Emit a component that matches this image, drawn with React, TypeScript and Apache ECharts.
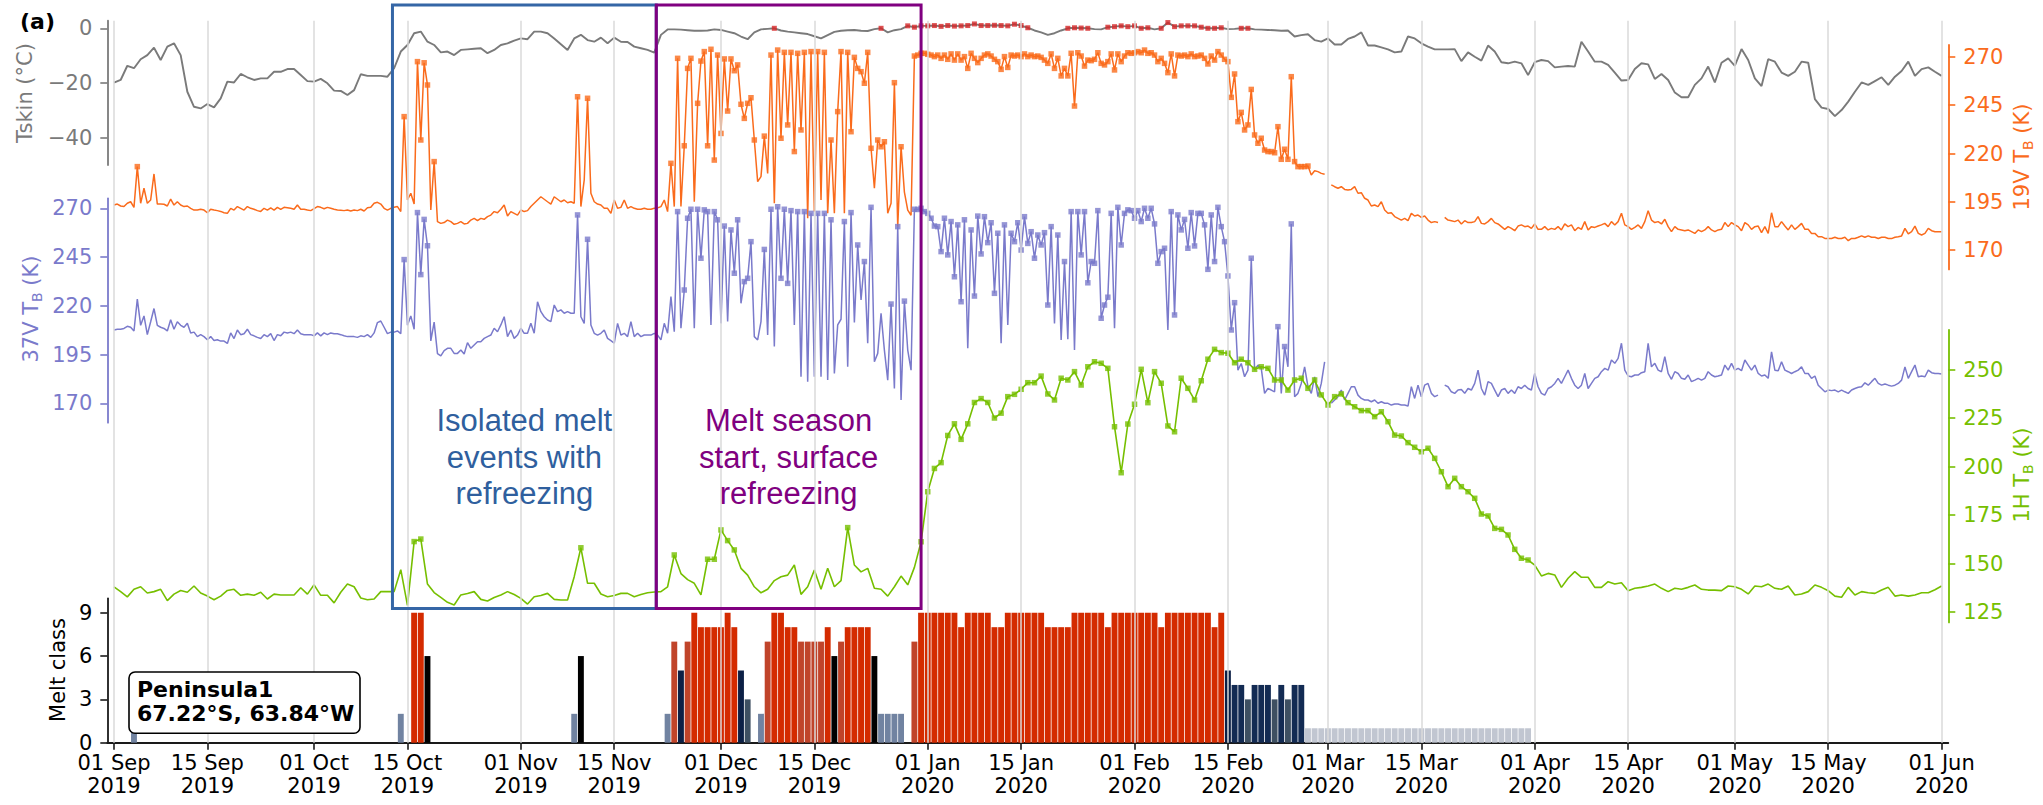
import React, { useEffect, useRef } from "react";
import * as echarts from "echarts";

// ---------------- data ----------------
// day 0 = 01 Sep 2019
const tickDays = [0, 14, 30, 44, 61, 75, 91, 105, 122, 136, 153, 167, 182, 196, 213, 227, 243, 257, 274];
const tickLabels = [
  "01 Sep\n2019", "15 Sep\n2019", "01 Oct\n2019", "15 Oct\n2019", "01 Nov\n2019", "15 Nov\n2019",
  "01 Dec\n2019", "15 Dec\n2019", "01 Jan\n2020", "15 Jan\n2020", "01 Feb\n2020", "15 Feb\n2020",
  "01 Mar\n2020", "15 Mar\n2020", "01 Apr\n2020", "15 Apr\n2020", "01 May\n2020", "15 May\n2020", "01 Jun\n2020",
];
const tskinTicks = [0, -20, -40];
const tbTicks = [170, 195, 220, 245, 270];
const tb1hTicks = [125, 150, 175, 200, 225, 250];
const meltTicks = [0, 3, 6, 9];

// skin temperature, daily (deg C)
const tskin = [
  -19.9, -18.9, -13.7, -14.6, -11.3, -9.8, -7.1, -11.6, -6.7, -5.5,
  -9.8, -23.2, -28.7, -29.3, -27.7, -28.9, -25.6, -19.5, -19.8, -16.7,
  -17.9, -18.9, -18.3, -18.3, -15.9, -15.9, -14.9, -14.9, -17.1, -19.3,
  -19.5, -18.5, -20.1, -22.8, -22.9, -24.4, -22.6, -16.8, -17.4, -17.4,
  -17.4, -17.7, -14.6, -8.5, -6.1, -1.8, -1.2, -4.9, -6.1, -8.8,
  -8.5, -9.8, -7.9, -7.7, -7.5, -7.3, -9.1, -7.9, -6.1, -5.5,
  -4.5, -3.7, -4.0, -1.2, -1.2, -1.8, -3.7, -5.8, -7.9, -3.7,
  -2.4, -4.3, -4.9, -3.4, -5.5, -3.4, -4.9, -5.0, -6.7, -7.3,
  -7.9, -8.9, -2.4, -0.4, -0.4, -0.5, -0.7, -0.9, -0.9, -0.8,
  -0.4, -0.6, -1.2, -1.8, -3.0, -4.0, -1.5, -0.4, -0.2, 0.0,
  -0.8, -1.2, -1.5, -1.8, -2.1, -2.9, -3.7, -2.5, -1.3, -0.9,
  -0.7, -0.6, -0.9, -1.0, -0.3, 0.0, -1.5, -0.7, -0.3, 0.9,
  0.4, 0.9, 0.9, 1.0, 0.7, 1.0, 0.8, 0.9, 1.0, 1.6,
  1.0, 1.0, 1.1, 1.0, 0.9, 1.5, 1.0, 0.2, -0.8, -1.5,
  -2.4, -1.8, -0.8, 0.0, 0.2, 0.1, 0.0, -0.3, -0.4, 0.4,
  0.6, 0.9, 0.6, 0.9, 0.0, 0.2, -0.4, 0.0, 2.1, 0.6,
  0.9, 0.9, 0.9, 0.4, 0.0, 0.0, 0.2, -0.3, -0.2, 0.0,
  0.0, -0.4, -0.5, -0.6, -0.7, -0.9, -0.8, -3.0, -2.5, -2.2,
  -4.3, -4.9, -3.7, -5.9, -5.9, -3.9, -3.0, -1.5, -6.3, -6.3,
  -7.0, -7.7, -8.8, -8.5, -3.0, -3.7, -5.5, -6.7, -7.7, -7.7,
  -7.7, -7.6, -12.0, -8.8, -10.4, -11.8, -6.3, -8.5, -12.4, -12.8,
  -12.2, -12.8, -17.1, -12.4, -11.6, -12.0, -14.3, -14.0, -13.8, -14.0,
  -4.9, -8.5, -12.2, -12.2, -13.4, -16.2, -19.1, -18.9, -14.9, -12.8,
  -13.2, -18.5, -16.7, -18.9, -23.5, -25.2, -25.2, -20.7, -18.3, -14.0,
  -19.8, -12.6, -11.0, -13.7, -7.6, -11.6, -18.3, -21.1, -11.3, -12.2,
  -16.2, -17.4, -15.9, -12.2, -12.6, -25.9, -29.0, -29.5, -32.1, -29.9,
  -26.8, -23.2, -19.8, -20.7, -19.3, -17.9, -20.7, -17.7, -15.6, -12.2,
  -17.4, -14.9, -14.3, -15.9, -17.4,
];

// 19 GHz V-pol brightness temperature, twice daily (K)
const tb19 = [
  193.3, 193.8, 192.8, 192.5, 194.2, 195.0, 192.1, 213.2, 194.2, 202.0,
  194.2, 195.9, 209.4, 193.8, 193.8, 193.7, 192.8, 196.4, 193.3, 195.0,
  193.3, 192.5, 192.8, 191.6, 190.7, 190.7, 191.1, 190.7, 189.3, 191.1,
  190.7, 190.4, 190.0, 189.3, 189.0, 191.6, 190.7, 192.5, 191.6, 190.7,
  192.5, 191.6, 191.1, 190.4, 190.0, 191.6, 190.7, 191.8, 190.7, 192.1,
  191.1, 192.1, 191.9, 191.6, 191.1, 193.3, 191.1, 191.1, 190.7, 190.4,
  191.4, 192.5, 192.1, 191.4, 192.1, 191.6, 191.1, 190.7, 190.6, 190.4,
  190.7, 190.2, 190.7, 190.4, 191.1, 190.2, 191.9, 192.1, 194.2, 194.7,
  193.8, 191.6, 190.7, 191.6, 192.1, 192.5, 189.9, 239.1, 195.9, 199.4,
  193.8, 267.6, 227.0, 267.0, 255.5, 190.7, 215.8, 184.7, 183.8, 184.2,
  185.5, 184.7, 183.3, 183.8, 184.7, 183.5, 183.8, 185.5, 186.4, 185.2,
  186.4, 185.9, 187.3, 188.1, 189.9, 189.3, 191.1, 193.3, 187.6, 189.9,
  189.0, 188.1, 190.7, 189.9, 190.4, 192.5, 194.2, 195.9, 197.6, 196.3,
  195.0, 193.8, 197.6, 196.3, 195.0, 195.9, 194.5, 195.0, 194.2, 249.4,
  192.5, 206.3, 248.6, 199.4, 195.0, 193.8, 193.3, 191.6, 191.6, 189.0,
  195.9, 191.6, 192.1, 195.9, 191.6, 192.5, 191.6, 191.1, 191.1, 191.6,
  191.1, 191.1, 191.6, 191.8, 192.5, 195.9, 189.9, 214.9, 192.5, 269.3,
  192.5, 224.0, 264.1, 269.3, 195.0, 246.0, 267.9, 272.8, 224.0, 274.0,
  216.6, 271.0, 230.4, 269.0, 242.0, 269.0, 262.9, 265.9, 245.5, 238.2,
  246.0, 248.9, 227.0, 205.4, 208.0, 229.0, 209.7, 271.0, 194.2, 273.6,
  227.9, 272.4, 234.8, 272.4, 221.0, 271.9, 232.2, 272.4, 186.4, 272.8,
  189.9, 272.8, 195.9, 272.4, 189.0, 227.0, 189.0, 241.7, 272.8, 189.0,
  272.4, 231.3, 269.8, 264.1, 262.4, 256.4, 272.4, 222.7, 202.0, 227.0,
  223.5, 226.1, 189.0, 194.2, 256.7, 182.1, 223.5, 200.0, 190.7, 188.0,
  270.5, 271.0, 271.9, 271.9, 271.4, 271.0, 270.2, 271.0, 269.3, 271.0,
  268.8, 271.6, 268.4, 271.6, 268.4, 270.2, 264.1, 271.9, 269.3, 267.1,
  269.3, 271.0, 271.6, 270.5, 268.8, 267.6, 263.6, 270.2, 264.6, 271.0,
  270.5, 271.0, 270.2, 271.6, 270.2, 271.0, 270.2, 270.5, 269.8, 268.4,
  266.7, 271.6, 264.1, 269.3, 260.2, 264.1, 260.2, 271.9, 244.6, 272.2,
  270.5, 265.3, 268.4, 268.1, 268.8, 272.2, 266.7, 265.9, 267.6, 271.6,
  263.3, 271.6, 267.6, 270.5, 272.2, 271.9, 272.2, 272.8, 272.2, 273.6,
  271.9, 272.2, 271.0, 267.6, 269.3, 266.7, 261.9, 271.6, 260.2, 271.0,
  270.5, 271.0, 270.2, 271.6, 270.2, 270.5, 271.0, 269.3, 266.4, 270.5,
  268.4, 272.8, 271.0, 268.8, 267.6, 249.1, 261.2, 236.5, 241.3, 232.2,
  234.8, 253.2, 229.6, 225.3, 227.9, 221.8, 221.0, 221.0, 220.4, 233.9,
  217.0, 222.2, 217.0, 259.8, 215.8, 213.2, 213.2, 213.2, 213.5, 208.9,
  211.1, 210.6, 209.7, 209.2, null, 203.7, 202.8, 202.0, 202.8, 201.4,
  201.1, 201.4, 202.8, 199.4, 199.7, 196.8, 195.9, 192.8, 193.3, 192.5,
  195.0, 190.7, 189.0, 189.3, 187.3, 186.4, 185.5, 186.4, 185.2, 189.0,
  187.6, 188.1, 186.9, 187.6, 185.5, 184.2, 184.7, 184.2, null, 186.9,
  185.5, 185.2, 184.7, 185.5, 183.5, 185.2, 184.2, 184.2, 184.7, 187.3,
  183.8, 183.5, 184.7, 186.4, 184.2, 183.5, 182.1, 180.7, 182.1, 181.2,
  180.0, 182.4, 183.0, 182.1, 182.4, 181.2, 183.5, 180.7, 180.7, 182.1,
  180.4, 181.2, 180.7, 182.1, 180.4, 183.5, 182.1, 183.0, 180.0, 181.7,
  180.7, 184.7, 180.4, 182.1, 181.7, 182.4, 183.0, 183.8, 182.1, 184.7,
  183.0, 184.7, 189.0, 183.0, 182.1, 180.7, 181.7, 183.0, 181.2, 184.7,
  190.4, 185.5, 184.2, 184.7, 183.5, 185.9, 182.1, 179.5, 182.1, 180.7,
  180.4, 180.0, 180.4, 179.5, 178.6, 180.4, 179.5, 180.4, 182.1, 180.4,
  179.5, 180.4, 180.7, 184.2, 182.1, 184.2, 183.0, 182.1, 180.0, 184.2,
  183.0, 180.7, 182.1, 182.4, 179.0, 182.1, 178.6, 189.3, 182.1, 182.1,
  184.7, 182.4, 180.4, 183.0, 180.7, 182.1, 183.8, 180.7, 180.7, 178.6,
  178.6, 176.9, 176.9, 176.0, 176.0, 176.0, 176.6, 176.0, 176.0, 176.6,
  174.8, 176.0, 176.0, 176.6, 177.3, 176.6, 177.3, 176.6, 176.6, 176.0,
  176.6, 176.6, 176.0, 175.9, 176.6, 176.9, 177.3, 181.2, 178.3, 179.5,
  182.4, 178.6, 177.8, 178.6, 181.2, 180.0, 179.5, 179.5, 179.5,
];

// 37 GHz V-pol brightness temperature, twice daily (K)
const tb37 = [
  207.6, 208.0, 208.0, 208.4, 209.5, 209.0, 207.1, 223.4, 210.0, 214.8,
  205.2, 211.8, 218.6, 210.0, 209.0, 208.4, 207.1, 212.8, 208.0, 211.8,
  210.0, 209.0, 211.0, 206.1, 206.5, 204.2, 205.2, 204.2, 202.6, 204.2,
  202.2, 202.6, 201.9, 201.9, 200.7, 206.1, 203.2, 207.6, 205.2, 205.7,
  208.0, 205.2, 204.6, 203.8, 203.2, 205.2, 204.2, 205.7, 202.2, 205.2,
  204.6, 206.5, 206.1, 206.5, 205.7, 207.6, 205.7, 205.2, 205.2, 205.2,
  204.6, 206.1, 204.6, 206.1, 205.2, 206.1, 205.7, 205.7, 205.2, 204.6,
  204.2, 204.2, 204.2, 203.8, 204.6, 204.2, 205.2, 203.8, 206.1, 211.4,
  212.2, 209.0, 205.7, 206.5, 206.5, 207.1, 205.7, 243.7, 210.0, 214.8,
  208.0, 267.8, 236.0, 264.3, 250.8, 202.0, 211.6, 195.5, 194.3, 197.0,
  198.2, 198.2, 195.6, 195.6, 197.3, 195.3, 201.1, 198.2, 199.9, 201.6,
  201.6, 203.3, 204.2, 205.0, 208.5, 206.7, 210.2, 214.4, 204.2, 207.6,
  203.3, 205.0, 208.5, 205.9, 205.9, 211.0, 205.9, 222.1, 217.0, 214.4,
  212.7, 211.9, 220.4, 217.0, 217.9, 216.2, 217.0, 216.2, 216.2, 266.6,
  214.4, 211.0, 254.1, 210.2, 205.9, 205.0, 205.9, 207.6, 203.3, 202.1,
  200.8, 211.0, 205.0, 205.9, 204.2, 211.9, 204.2, 205.9, 204.2, 205.0,
  205.0, 205.0, 205.9, 205.0, 202.5, 211.0, 205.9, 224.7, 206.7, 268.3,
  208.5, 228.1, 264.9, 269.5, 208.5, 269.5, 244.4, 269.2, 268.3, 210.2,
  268.3, 264.1, 211.0, 260.9, 211.9, 258.9, 236.7, 264.1, 221.3, 232.4,
  234.1, 252.9, 204.2, 202.5, 211.9, 248.9, 205.0, 269.5, 199.1, 270.8,
  234.1, 269.5, 231.5, 268.8, 210.2, 268.3, 183.6, 268.3, 181.1, 267.4,
  183.6, 267.4, 183.6, 267.4, 181.9, 264.1, 185.3, 210.2, 213.1, 263.2,
  188.7, 267.8, 211.4, 251.2, 223.0, 242.7, 200.8, 270.5, 191.3, 195.6,
  216.2, 197.3, 181.9, 220.9, 177.6, 260.6, 171.7, 222.4, 197.3, 187.0,
  269.5, 269.4, 270.0, 268.3, 267.4, 264.9, 260.9, 260.6, 247.8, 264.9,
  246.1, 263.2, 234.9, 261.5, 222.1, 264.1, 198.2, 258.9, 225.0, 266.0,
  246.6, 265.7, 252.4, 262.6, 226.4, 257.2, 200.8, 261.5, 210.2, 257.2,
  252.9, 262.6, 248.6, 265.7, 252.0, 258.0, 244.4, 256.3, 251.2, 257.5,
  220.4, 260.6, 211.0, 256.3, 202.5, 242.7, 202.8, 268.3, 197.3, 268.3,
  246.1, 268.3, 231.8, 242.7, 241.8, 268.8, 213.6, 220.4, 224.4, 267.4,
  208.5, 270.5, 251.2, 267.4, 269.2, 268.8, 264.9, 268.8, 263.2, 270.0,
  264.9, 270.0, 262.0, 241.8, 247.8, 249.5, 207.6, 268.3, 215.3, 266.6,
  258.9, 264.3, 249.5, 267.8, 250.7, 267.4, 267.4, 261.5, 238.7, 266.6,
  242.7, 270.5, 260.6, 252.9, 235.3, 207.6, 221.6, 187.0, 190.4, 183.6,
  187.0, 244.4, 187.0, 189.6, 187.9, 175.1, 177.6, 176.8, 175.9, 209.3,
  175.1, 199.1, 188.7, 262.0, 173.4, 175.1, 180.2, 188.7, 178.5, 175.1,
  183.6, 173.4, 180.2, 191.3, null, 170.0, 171.7, 173.4, 176.8, 171.7,
  175.1, 178.5, 178.5, 174.2, 172.5, 171.7, 171.7, 170.8, 171.7, 170.0,
  170.8, 170.0, 170.0, 169.1, 169.6, 169.6, 169.1, 169.1, 168.6, 178.5,
  172.5, 179.3, 173.4, 179.3, 180.2, 175.1, 173.4, 174.2, null, 179.3,
  178.5, 175.9, 175.1, 176.8, 177.1, 175.1, 177.6, 176.8, 180.2, 187.0,
  177.6, 174.2, 181.1, 180.2, 176.8, 173.4, 176.8, 177.6, 175.1, 176.8,
  175.1, 178.5, 177.6, 179.3, 177.6, 176.8, 185.3, 178.5, 175.1, 174.2,
  177.6, 178.5, 180.2, 182.8, 180.2, 183.6, 187.0, 182.8, 179.3, 177.6,
  179.3, 185.3, 177.6, 180.2, 182.8, 183.6, 186.2, 187.9, 187.0, 192.2,
  190.5, 193.0, 200.8, 187.0, 184.0, 183.6, 184.5, 184.5, 185.7, 186.2,
  200.8, 188.7, 190.5, 187.0, 186.2, 193.9, 185.3, 182.3, 186.2, 185.3,
  182.8, 182.3, 184.5, 181.1, 181.9, 182.8, 181.9, 182.8, 186.2, 184.5,
  183.6, 184.0, 184.5, 189.6, 187.0, 190.5, 187.0, 187.9, 186.7, 192.2,
  189.6, 187.0, 189.6, 185.3, 184.0, 184.5, 182.8, 196.4, 187.0, 186.7,
  191.3, 187.0, 186.2, 185.3, 186.2, 187.0, 188.7, 185.3, 185.3, 182.8,
  184.0, 179.3, 177.6, 175.9, 176.8, 176.5, 176.8, 175.9, 176.8, 175.9,
  175.1, 176.8, 177.6, 178.2, 178.5, 180.5, 179.3, 181.1, 182.8, 180.2,
  179.3, 179.9, 179.3, 178.8, 179.3, 180.2, 181.9, 188.7, 182.8, 186.2,
  189.6, 183.6, 184.0, 183.6, 187.0, 185.7, 185.3, 185.3, 185.0,
];

// 1.4 GHz H-pol brightness temperature, daily (K)
const tb1h = [
  138.0, 135.5, 132.8, 136.7, 138.0, 134.8, 135.5, 136.7, 130.9, 134.2,
  136.1, 135.2, 138.4, 134.8, 133.2, 131.3, 133.2, 136.1, 136.7, 133.6,
  134.2, 133.6, 135.2, 131.7, 134.2, 133.8, 133.8, 133.8, 137.5, 134.2,
  139.0, 133.6, 133.6, 129.7, 135.2, 139.4, 138.0, 132.2, 131.3, 131.7,
  135.5, 135.5, 135.5, 146.8, 128.4, 161.3, 162.6, 139.4, 135.0, 132.5,
  130.0, 128.6, 133.8, 134.5, 135.5, 131.5, 130.7, 132.5, 133.8, 135.5,
  134.0, 132.0, 129.1, 132.9, 133.5, 134.6, 131.5, 131.2, 131.2, 143.2,
  158.1, 139.8, 139.8, 134.3, 132.9, 133.5, 134.6, 134.6, 132.9, 134.0,
  134.9, 135.3, 135.5, 138.0, 154.4, 144.8, 141.7, 139.8, 133.8, 152.2,
  152.2, 167.3, 161.8, 157.0, 147.5, 144.0, 138.0, 134.9, 136.7, 141.2,
  143.2, 144.0, 149.2, 134.1, 138.0, 146.6, 136.7, 147.5, 138.0, 141.2,
  168.5, 149.2, 145.7, 147.5, 137.2, 136.7, 133.2, 138.0, 143.5, 139.0,
  148.0, 161.2, 187.0, 199.0, 202.0, 216.0, 222.0, 214.0, 222.0, 233.0,
  235.0, 233.0, 225.0, 227.5, 236.0, 237.2, 239.8, 243.2, 243.2, 246.6,
  237.4, 234.3, 245.5, 244.6, 248.9, 242.0, 251.4, 254.0, 253.2, 250.6,
  220.5, 196.8, 221.9, 232.1, 250.1, 232.9, 248.9, 242.9, 220.9, 217.9,
  245.5, 240.3, 234.3, 244.2, 255.3, 260.4, 258.7, 258.4, 253.5, 255.3,
  253.5, 250.1, 251.4, 250.6, 244.6, 244.6, 239.4, 244.6, 245.5, 240.3,
  244.6, 236.9, 231.7, 236.0, 237.4, 232.9, 230.8, 228.8, 228.8, 225.7,
  228.2, 223.1, 216.2, 215.7, 212.3, 209.9, 207.6, 209.4, 204.2, 197.3,
  189.6, 193.9, 189.6, 187.0, 183.6, 175.5, 174.5, 168.1, 167.6, 164.7,
  157.3, 152.7, 151.8, 149.2, 143.6, 144.9, 144.1, 137.7, 142.4, 145.8,
  142.9, 142.9, 137.7, 137.7, 140.6, 139.4, 140.1, 136.0, 137.2, 137.7,
  138.4, 139.4, 137.2, 135.5, 137.2, 136.7, 137.7, 138.9, 136.7, 136.3,
  136.3, 136.0, 138.4, 138.0, 136.7, 134.3, 138.4, 138.0, 139.4, 137.2,
  136.7, 138.4, 133.8, 134.3, 135.5, 138.9, 137.7, 136.0, 133.2, 132.6,
  137.7, 133.8, 135.5, 134.9, 134.6, 136.3, 137.7, 133.2, 133.8, 133.2,
  133.8, 134.9, 134.9, 136.5, 138.4,
];

// half-day sample indices where 37V melt was flagged (inclusive ranges)
const tb37MarkedRanges = [
  [87, 87], [91, 94], [139, 139], [142, 142], [169, 169], [171, 173], [175, 178], [180, 181],
  [183, 183], [185, 187], [189, 191], [195, 195], [197, 197], [199, 203], [205, 205], [207, 207],
  [209, 209], [211, 211], [213, 213], [215, 215], [219, 219], [221, 221], [223, 223], [225, 225],
  [227, 227], [233, 233], [235, 235], [237, 237], [240, 255], [257, 265], [267, 267], [269, 281],
  [283, 283], [285, 285], [287, 287], [289, 299], [301, 315], [317, 336], [341, 341], [349, 349],
  [351, 351], [353, 353],
];
const tskinMeltThreshold = 0;
const tb19MeltThreshold = 212;
const tb1hMeltThreshold = 151;

// melt class per day: [day, class]
const meltBars = [
  [3, 2], [43, 2], [45, 9], [46, 9], [47, 6], [69, 2], [70, 6],
  [83, 2], [84, 7], [85, 5], [86, 7], [87, 9], [88, 8], [89, 8], [90, 8], [91, 8], [92, 9], [93, 8], [94, 5], [95, 3],
  [97, 2], [98, 7], [99, 9], [100, 9], [101, 8], [102, 8], [103, 7], [104, 7], [105, 7], [106, 7], [107, 8], [108, 6],
  [109, 7], [110, 8], [111, 8], [112, 8], [113, 8], [114, 6], [115, 2], [116, 2], [117, 2], [118, 2], [120, 7],
  [121, 9], [122, 9], [123, 9], [124, 9], [125, 9], [126, 9], [127, 8], [128, 9], [129, 9], [130, 9], [131, 9],
  [132, 8], [133, 8], [134, 9], [135, 9], [136, 9], [137, 9], [138, 9], [139, 9], [140, 8], [141, 8], [142, 8],
  [143, 8], [144, 9], [145, 9], [146, 9], [147, 9], [148, 9], [149, 8], [150, 9], [151, 9], [152, 9], [153, 9],
  [154, 9], [155, 9], [156, 9], [157, 8], [158, 9], [159, 9], [160, 9], [161, 9], [162, 9], [163, 9], [164, 9],
  [165, 8], [166, 9], [167, 5], [168, 4], [169, 4], [170, 3], [171, 4], [172, 4], [173, 4], [174, 3], [175, 4],
  [176, 3], [177, 4], [178, 4],
  [179, 1], [180, 1], [181, 1], [182, 1], [183, 1], [184, 1], [185, 1], [186, 1], [187, 1], [188, 1], [189, 1],
  [190, 1], [191, 1], [192, 1], [193, 1], [194, 1], [195, 1], [196, 1], [197, 1], [198, 1], [199, 1], [200, 1],
  [201, 1], [202, 1], [203, 1], [204, 1], [205, 1], [206, 1], [207, 1], [208, 1], [209, 1], [210, 1], [211, 1],
  [212, 1],
];
const meltColors: Record<number, string> = {
  1: "#c1c6d1", 2: "#7183a1", 3: "#3e5062", 4: "#132b53", 5: "#0c2046",
  6: "#000000", 7: "#c0442a", 8: "#d42b00", 9: "#d42b00",
};

// annotation periods (days)
const isolatedPeriod = [41.75, 81.3];
const seasonPeriod = [81.3, 121.0];

// ---------------- layout ----------------
const W = 2043;
const H = 805;
const X_MIN = -1;
const X_MAX = 275;
const PLOT_L = 107.3;
const PLOT_W = 1841;
const FONT = "DejaVu Sans";

const C_TSKIN = "#7a7a7a";
const C_MARK = "#d62728";
const C_19 = "#fa6b1c";
const C_37 = "#7a7acb";
const C_1H = "#76bf00";
const C_BLUE = "#3566a6";
const C_PURPLE = "#800080";

type YMap = { ref: number; y: number; ppu: number };
const MAP_TSKIN: YMap = { ref: 0, y: 28.3, ppu: 2.735 };
const MAP_19: YMap = { ref: 270, y: 57, ppu: 1.93 };
const MAP_37: YMap = { ref: 270, y: 208.3, ppu: 1.95 };
const MAP_1H: YMap = { ref: 250, y: 369.5, ppu: 1.94 };

function yRange(m: YMap, top: number, bottom: number) {
  return { max: m.ref + (m.y - top) / m.ppu, min: m.ref - (bottom - m.y) / m.ppu };
}
const xPix = (d: number) => PLOT_L + ((d - X_MIN) * PLOT_W) / (X_MAX - X_MIN);

function gridAt(top: number, bottom: number) {
  return { left: PLOT_L, width: PLOT_W, top, height: bottom - top, containLabel: false, outerBoundsMode: "none" };
}
const minusFmt = (v: number) => (v < 0 ? "\u2212" + Math.abs(v) : String(v));

function visibleY(gridIndex: number, r: { min: number; max: number }, ticks: number[], color: string, position: string, labelColor?: string) {
  return {
    type: "value",
    gridIndex,
    min: r.min,
    max: r.max,
    position,
    axisLine: { show: true, onZero: false, lineStyle: { color, width: 1.8 } },
    axisTick: { show: true, customValues: ticks, length: 7, lineStyle: { color, width: 1.6 } },
    axisLabel: {
      show: true,
      customValues: ticks,
      margin: 15,
      color: labelColor || color,
      fontSize: 21,
      lineHeight: 18,
      fontFamily: FONT,
      formatter: minusFmt,
    },
    splitLine: { show: false },
  };
}
function hiddenY(gridIndex: number, r: { min: number; max: number }) {
  return { type: "value", gridIndex, min: r.min, max: r.max, show: false, splitLine: { show: false } };
}

export default function App() {
  const ref = useRef<HTMLDivElement>(null);

  useEffect(() => {
    document.body.style.margin = "0";
    if (!ref.current) return;
    const chart = echarts.init(ref.current, null, { renderer: "svg" });

    const rTskin = yRange(MAP_TSKIN, 0, H);
    const r37 = yRange(MAP_37, 0, H);
    const r19 = yRange(MAP_19, 0, H);
    const r1h = yRange(MAP_1H, 0, H);

    const grids = [
      gridAt(0, H), gridAt(0, H), gridAt(0, H), gridAt(0, H),
      gridAt(598.3, 742.7),
      gridAt(20.7, 165),
      gridAt(198.3, 422.7),
      gridAt(44.9, 269.4),
      gridAt(329.8, 622.4),
    ];

    const xAxes = grids.map((_, i) =>
      i === 4
        ? {
            type: "value",
            gridIndex: 4,
            min: X_MIN,
            max: X_MAX,
            position: "bottom",
            axisLine: { show: true, onZero: false, lineStyle: { color: "#1a1a1a", width: 1.8 } },
            axisTick: { show: true, customValues: tickDays, length: 7, lineStyle: { color: "#1a1a1a", width: 1.6 } },
            axisLabel: {
              show: true,
              customValues: tickDays,
              margin: 9,
              color: "#000",
              fontSize: 21,
              lineHeight: 23,
              fontFamily: FONT,
              formatter: (v: number) => {
                const k = tickDays.indexOf(Math.round(v));
                return k >= 0 ? tickLabels[k] : "";
              },
            },
            splitLine: { show: false },
          }
        : { type: "value", gridIndex: i, min: X_MIN, max: X_MAX, show: false, splitLine: { show: false } }
    );

    const yAxes = [
      hiddenY(0, rTskin),
      hiddenY(1, r37),
      hiddenY(2, r19),
      hiddenY(3, r1h),
      visibleY(4, { min: 0, max: 10 }, meltTicks, "#1a1a1a", "left", "#000"),
      visibleY(5, yRange(MAP_TSKIN, 20.7, 165), tskinTicks, C_TSKIN, "left"),
      visibleY(6, yRange(MAP_37, 198.3, 422.7), tbTicks, C_37, "left"),
      visibleY(7, yRange(MAP_19, 44.9, 269.4), tbTicks, C_19, "right"),
      visibleY(8, yRange(MAP_1H, 329.8, 622.4), tb1hTicks, C_1H, "right"),
    ];

    const vTop = MAP_TSKIN.ref + (MAP_TSKIN.y - 20.7) / MAP_TSKIN.ppu;
    const vBot = MAP_TSKIN.ref - (742.7 - MAP_TSKIN.y) / MAP_TSKIN.ppu;

    const halfDay = (arr: (number | null)[]) => arr.map((v, i) => [i / 2, v === null ? "-" : v]);
    const is37Marked = (i: number) => tb37MarkedRanges.some(([a, b]) => i >= a && i <= b);

    const lineStyle = (color: string, width: number) => ({
      type: "line",
      symbol: "none",
      lineStyle: { color, width },
      itemStyle: { color },
      connectNulls: false,
      silent: true,
      z: 3,
    });
    const markerStyle = (color: string, size: number) => ({
      type: "scatter",
      symbol: "rect",
      symbolSize: size,
      itemStyle: { color },
      silent: true,
      z: 4,
    });

    const series: any[] = [
      {
        type: "line",
        xAxisIndex: 0,
        yAxisIndex: 0,
        data: [],
        silent: true,
        z: 0,
        markLine: {
          silent: true,
          symbol: ["none", "none"],
          label: { show: false },
          lineStyle: { color: "#dadada", width: 1.5, type: "solid" },
          data: tickDays.map((d) => [{ coord: [d, vTop] }, { coord: [d, vBot] }]),
        },
      },
      {
        type: "bar",
        xAxisIndex: 4,
        yAxisIndex: 4,
        barWidth: 5.9,
        silent: true,
        z: 2,
        data: meltBars.map(([d, c]) => ({ value: [d, c], itemStyle: { color: meltColors[c] } })),
      },
      { ...lineStyle(C_TSKIN, 1.9), xAxisIndex: 0, yAxisIndex: 0, data: tskin.map((v, d) => [d, v]) },
      {
        ...markerStyle(C_MARK, 5),
        xAxisIndex: 0,
        yAxisIndex: 0,
        data: tskin.map((v, d) => [d, v]).filter(([, v]) => v >= tskinMeltThreshold),
      },
      { ...lineStyle(C_37, 1.5), xAxisIndex: 1, yAxisIndex: 1, data: halfDay(tb37) },
      {
        ...markerStyle(C_37, 5.5),
        xAxisIndex: 1,
        yAxisIndex: 1,
        data: tb37.map((v, i) => [i / 2, v, i]).filter(([, v, i]) => v !== null && is37Marked(i as number)).map(([d, v]) => [d, v]),
      },
      { ...lineStyle(C_19, 1.5), xAxisIndex: 2, yAxisIndex: 2, data: halfDay(tb19) },
      {
        ...markerStyle(C_19, 5.5),
        xAxisIndex: 2,
        yAxisIndex: 2,
        data: tb19.map((v, i) => [i / 2, v]).filter(([, v]) => v !== null && (v as number) >= tb19MeltThreshold),
      },
      { ...lineStyle(C_1H, 1.6), xAxisIndex: 3, yAxisIndex: 3, data: tb1h.map((v, d) => [d, v]) },
      {
        ...markerStyle(C_1H, 5.5),
        xAxisIndex: 3,
        yAxisIndex: 3,
        data: tb1h.map((v, d) => [d, v]).filter(([, v]) => v >= tb1hMeltThreshold),
      },
    ];

    const sub = (color: string) => ({ fontSize: 14, fill: color, fontFamily: FONT, verticalAlign: "bottom", padding: [0, 0, -2, 0] });
    const axisTitle = (x: number, y: number, text: string, color: string, withSub: boolean) => ({
      type: "text",
      x,
      y,
      rotation: Math.PI / 2,
      z: 80,
      style: {
        text,
        fill: color,
        fontSize: 21,
        fontFamily: FONT,
        align: "center",
        verticalAlign: "middle",
        ...(withSub ? { rich: { s: sub(color) } } : {}),
      },
    });

    const rectEl = (p: number[], color: string, z: number) => ({
      type: "rect",
      z,
      shape: { x: xPix(p[0]), y: 5, width: xPix(p[1]) - xPix(p[0]), height: 603.5 },
      style: { fill: "none", stroke: color, lineWidth: 3 },
    });
    const noteEl = (p: number[], text: string, color: string) => ({
      type: "text",
      z: 70,
      x: (xPix(p[0]) + xPix(p[1])) / 2,
      y: 457,
      style: {
        text,
        fill: color,
        fontSize: 31,
        lineHeight: 36.5,
        fontFamily: "Liberation Sans, Arial, sans-serif",
        align: "center",
        verticalAlign: "middle",
      },
    });

    const graphic = [
      rectEl(isolatedPeriod, C_BLUE, 60),
      rectEl(seasonPeriod, C_PURPLE, 61),
      noteEl(isolatedPeriod, "Isolated melt\nevents with\nrefreezing", "#2f5f9e"),
      noteEl(seasonPeriod, "Melt season\nstart, surface\nrefreezing", C_PURPLE),
      {
        type: "rect",
        z: 90,
        shape: { x: 129, y: 672, width: 231, height: 61.3, r: 6 },
        style: { fill: "#ffffff", stroke: "#000000", lineWidth: 1.6 },
      },
      {
        type: "text",
        z: 91,
        x: 137,
        y: 701.5,
        style: {
          text: "Peninsula1\n67.22\u00b0S, 63.84\u00b0W",
          fill: "#000",
          fontSize: 22,
          fontWeight: "bold",
          lineHeight: 23.5,
          fontFamily: FONT,
          align: "left",
          verticalAlign: "middle",
        },
      },
      {
        type: "text",
        z: 91,
        x: 20,
        y: 21,
        style: { text: "(a)", fill: "#000", fontSize: 22, fontWeight: "bold", fontFamily: FONT, align: "left", verticalAlign: "middle" },
      },
      axisTitle(25, 93, "Tskin (\u00b0C)", C_TSKIN, false),
      axisTitle(31, 309, "37V T{s|B} (K)", C_37, true),
      axisTitle(2022, 157, "19V T{s|B} (K)", C_19, true),
      axisTitle(2022, 475, "1H T{s|B} (K)", C_1H, true),
      axisTitle(58, 670, "Melt class", "#000", false),
    ];

    chart.setOption({
      animation: false,
      backgroundColor: "#ffffff",
      grid: grids,
      xAxis: xAxes,
      yAxis: yAxes,
      series,
      graphic,
    } as any);

    return () => {
      chart.dispose();
    };
  }, []);

  return <div ref={ref} style={{ width: W, height: H }} />;
}
